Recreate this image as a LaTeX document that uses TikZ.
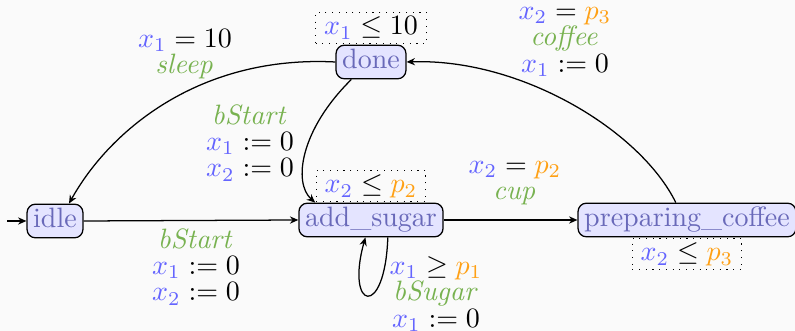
\documentclass[tikz,border=0pt]{standalone}
\usetikzlibrary{arrows.meta}
\definecolor{xb}{RGB}{100,100,255}
\definecolor{ag}{RGB}{120,178,80}
\definecolor{po}{RGB}{255,160,20}
\definecolor{locfill}{RGB}{228,228,255}
\definecolor{loctext}{RGB}{105,105,185}
\definecolor{bgc}{RGB}{250,250,250}
\newcommand\vx[1]{{\color{xb}x_{#1}}}
\newcommand\vp[1]{{\color{po}p_{#1}}}
\newcommand\act[1]{{\color{ag}\mathit{#1}}}
\begin{document}
\begin{tikzpicture}[x=0.357pt,y=-0.357pt,
  >={Stealth[length=3pt,width=2.6pt]},
  loc/.style={draw, rounded corners=3pt, fill=locfill, text=loctext, inner xsep=2.2pt, inner ysep=1.5pt, text height=7pt, text depth=2pt, line width=0.45pt},
  inv/.style={draw, dotted, inner xsep=3pt, inner ysep=1.1pt, text height=7pt, text depth=2pt, line width=0.4pt},
  lbl/.style={align=center, font=\fontsize{10}{9.4}\selectfont, inner sep=0pt},
  conn/.style={->, line width=0.45pt}]
\fill[bgc] (0,0) rectangle (795,331);
\useasboundingbox (0,0) rectangle (795,331);

\node[loc] (idle) at (55,221) {idle};
\node[loc] (add) at (371,220) {add\_sugar};
\node[loc] (prep) at (687,220) {preparing\_coffee};
\node[loc] (done) at (371,62) {done};

\node[inv] (invdone) at (371,28) {$\vx1 \leq 10$};
\node[inv] (invadd) at (371,186) {$\vx2 \leq \vp2$};
\node[inv] (invprep) at (687,254) {$\vx2 \leq \vp3$};

\coordinate (init) at (7,221);
\draw[conn] (init) -- (idle.west);

\draw[conn] (idle.east) -- (add.west);
\node[lbl] (l1) at (196,267) {$\act{bStart}$\\ $\vx1 := 0$\\ $\vx2 := 0$};

\draw[conn] (add.east) -- (prep.west);
\node[lbl] (l2) at (515,183) {$\vx2 = \vp2$\\ $\act{cup}$};

\draw[conn] ([xshift=6pt]add.south) .. controls (385,320) and (345,310) .. ([xshift=-2pt]add.south);
\node[lbl] (l3) at (436,294) {$\vx1 \geq \vp1$\\ $\act{bSugar}$\\ $\vx1 := 0$};

\draw[conn] ([xshift=-7pt]done.south) .. controls (300,130) and (293,183) .. ([xshift=6pt]add.north west);
\node[lbl] (l4) at (250,143) {$\act{bStart}$\\ $\vx1 := 0$\\ $\vx2 := 0$};

\draw[conn] (done.west) .. controls (200,55) and (110,130) .. ([xshift=5pt]idle.north);
\node[lbl] (l5) at (185,54) {$\vx1 = 10$\\ $\act{sleep}$};

\draw[conn] ([xshift=-4pt]prep.north) .. controls (640,130) and (520,58) .. (done.east);
\node[lbl] (l6) at (565,42) {$\vx2 = \vp3$\\ $\act{coffee}$\\ $\vx1 := 0$};
\end{tikzpicture}
\end{document}
